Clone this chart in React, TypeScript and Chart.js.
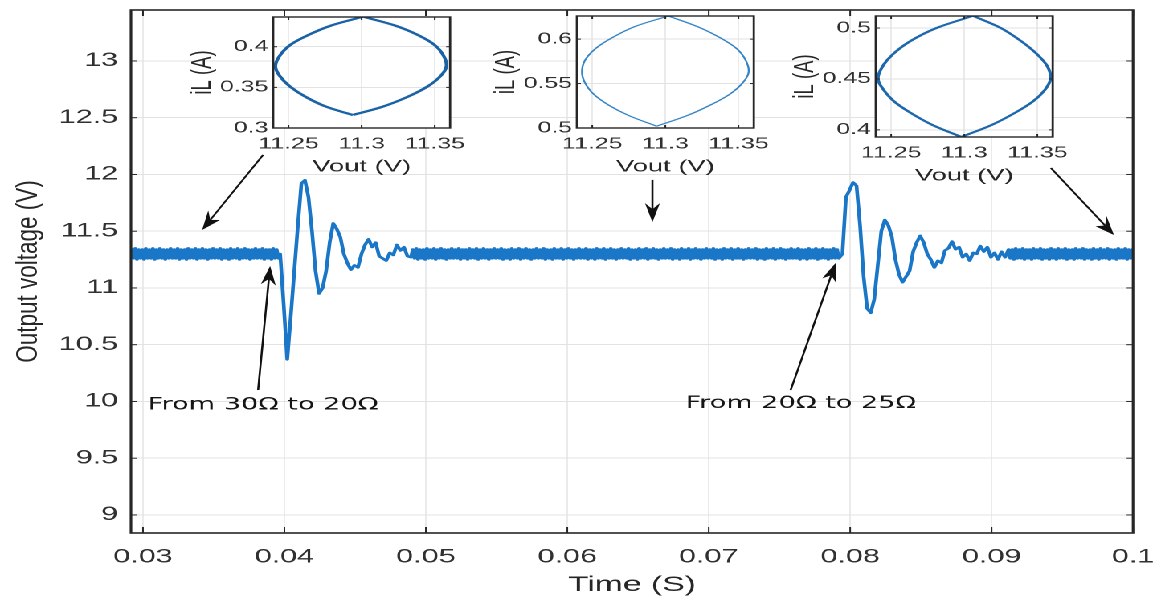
import React, { useEffect, useRef } from "react";
import { Chart, registerables } from "chart.js";

Chart.register(...registerables);

// The reference picture is horizontally stretched; the chart is laid out in a
// narrower base space and stretched with a CSS transform.
const FINAL_W = 1157;
const BASE_W = 720;
const BASE_H = 600;
const STRETCH = FINAL_W / BASE_W;
const SANS = '"Liberation Sans", Arial, Helvetica, sans-serif';

// ---------------- main waveform data ----------------
const STEADY_DT = 0.000125; // s
const TRANSIENT_DT = 0.00025; // s
const steadyA_T0 = 0.0292;
const transient1_T0 = 0.0397;
const steadyB_T0 = 0.049075;
const transient2_T0 = 0.07945;
const steadyC_T0 = 0.091325;

const vSteadyA = [
  11.34, 11.26, 11.35, 11.25, 11.34, 11.26, 11.34, 11.25, 11.35, 11.26, 11.34, 11.26,
  11.35, 11.25, 11.34, 11.26, 11.35, 11.26, 11.34, 11.25, 11.34, 11.26, 11.35, 11.26,
  11.34, 11.26, 11.35, 11.25, 11.34, 11.26, 11.34, 11.25, 11.35, 11.26, 11.34, 11.26,
  11.35, 11.25, 11.34, 11.26, 11.35, 11.26, 11.34, 11.25, 11.34, 11.26, 11.35, 11.26,
  11.34, 11.26, 11.35, 11.25, 11.34, 11.26, 11.34, 11.25, 11.35, 11.26, 11.34, 11.26,
  11.35, 11.25, 11.34, 11.26, 11.35, 11.26, 11.34, 11.25, 11.34, 11.26, 11.35, 11.26,
  11.34, 11.26, 11.35, 11.25, 11.34, 11.26, 11.34, 11.25, 11.35, 11.26, 11.34, 11.26,
];

const vTransient1 = [
  11.30, 10.85, 10.37, 10.75, 11.15, 11.55, 11.92, 11.95, 11.80, 11.50,
  11.15, 10.95, 11.00, 11.15, 11.40, 11.57, 11.52, 11.45, 11.30, 11.22,
  11.16, 11.20, 11.18, 11.30, 11.38, 11.43, 11.36, 11.40, 11.28, 11.26,
  11.24, 11.31, 11.29, 11.38, 11.33, 11.36, 11.28, 11.27,
];

const vSteadyB = [
  11.34, 11.26, 11.35, 11.25, 11.34, 11.26, 11.34, 11.25, 11.35, 11.26, 11.34, 11.26,
  11.35, 11.25, 11.34, 11.26, 11.35, 11.26, 11.34, 11.25, 11.34, 11.26, 11.35, 11.26,
  11.34, 11.26, 11.35, 11.25, 11.34, 11.26, 11.34, 11.25, 11.35, 11.26, 11.34, 11.26,
  11.35, 11.25, 11.34, 11.26, 11.35, 11.26, 11.34, 11.25, 11.34, 11.26, 11.35, 11.26,
  11.34, 11.26, 11.35, 11.25, 11.34, 11.26, 11.34, 11.25, 11.35, 11.26, 11.34, 11.26,
  11.35, 11.25, 11.34, 11.26, 11.35, 11.26, 11.34, 11.25, 11.34, 11.26, 11.35, 11.26,
  11.34, 11.26, 11.35, 11.25, 11.34, 11.26, 11.34, 11.25, 11.35, 11.26, 11.34, 11.26,
  11.35, 11.25, 11.34, 11.26, 11.35, 11.26, 11.34, 11.25, 11.34, 11.26, 11.35, 11.26,
  11.34, 11.26, 11.35, 11.25, 11.34, 11.26, 11.34, 11.25, 11.35, 11.26, 11.34, 11.26,
  11.35, 11.25, 11.34, 11.26, 11.35, 11.26, 11.34, 11.25, 11.34, 11.26, 11.35, 11.26,
  11.34, 11.26, 11.35, 11.25, 11.34, 11.26, 11.34, 11.25, 11.35, 11.26, 11.34, 11.26,
  11.35, 11.25, 11.34, 11.26, 11.35, 11.26, 11.34, 11.25, 11.34, 11.26, 11.35, 11.26,
  11.34, 11.26, 11.35, 11.25, 11.34, 11.26, 11.34, 11.25, 11.35, 11.26, 11.34, 11.26,
  11.35, 11.25, 11.34, 11.26, 11.35, 11.26, 11.34, 11.25, 11.34, 11.26, 11.35, 11.26,
  11.34, 11.26, 11.35, 11.25, 11.34, 11.26, 11.34, 11.25, 11.35, 11.26, 11.34, 11.26,
  11.35, 11.25, 11.34, 11.26, 11.35, 11.26, 11.34, 11.25, 11.34, 11.26, 11.35, 11.26,
  11.34, 11.26, 11.35, 11.25, 11.34, 11.26, 11.34, 11.25, 11.35, 11.26, 11.34, 11.26,
  11.35, 11.25, 11.34, 11.26, 11.35, 11.26, 11.34, 11.25, 11.34, 11.26, 11.35, 11.26,
  11.34, 11.26, 11.35, 11.25, 11.34, 11.26, 11.34, 11.25, 11.35, 11.26, 11.34, 11.26,
  11.35, 11.25, 11.34, 11.26, 11.35, 11.26, 11.34, 11.25, 11.34, 11.26, 11.35, 11.26,
  11.34, 11.26,
];

const vTransient2 = [
  11.30, 11.80, 11.86, 11.93, 11.90, 11.55, 11.10, 10.82, 10.78, 10.90,
  11.20, 11.50, 11.60, 11.55, 11.45, 11.25, 11.12, 11.05, 11.10, 11.15,
  11.32, 11.40, 11.46, 11.40, 11.30, 11.25, 11.18, 11.24, 11.22, 11.33,
  11.35, 11.41, 11.34, 11.36, 11.27, 11.30, 11.24, 11.31, 11.30, 11.37,
  11.32, 11.36, 11.27, 11.31, 11.25, 11.32, 11.27, 11.34,
];

const vSteadyC = [
  11.26, 11.34, 11.25, 11.35, 11.26, 11.34, 11.26, 11.35, 11.25, 11.34, 11.26, 11.34,
  11.25, 11.35, 11.26, 11.34, 11.26, 11.35, 11.25, 11.34, 11.26, 11.34, 11.25, 11.35,
  11.26, 11.34, 11.25, 11.35, 11.26, 11.34, 11.26, 11.35, 11.25, 11.34, 11.26, 11.34,
  11.25, 11.35, 11.26, 11.34, 11.26, 11.35, 11.25, 11.34, 11.26, 11.34, 11.25, 11.35,
  11.26, 11.34, 11.25, 11.35, 11.26, 11.34, 11.26, 11.35, 11.25, 11.34, 11.26, 11.34,
  11.25, 11.35, 11.26, 11.34, 11.26, 11.35, 11.25, 11.34, 11.26, 11.34, 11.25, 11.35,
];

const xTickValues = [0.03, 0.04, 0.05, 0.06, 0.07, 0.08, 0.09, 0.1];
const xTickLabels = ["0.03", "0.04", "0.05", "0.06", "0.07", "0.08", "0.09", "0.1"];
const yTickValues = [9, 9.5, 10, 10.5, 11, 11.5, 12, 12.5, 13];
const yTickLabels = ["9", "9.5", "10", "10.5", "11", "11.5", "12", "12.5", "13"];
const X_RANGE = [0.02915, 0.1];
const Y_RANGE = [8.841, 13.449];
const X_TITLE = "Time (S)";
const Y_TITLE = "Output voltage (V)";

// annotations (data coordinates: [time, voltage])
const arrowTails = [
  [0.03849, 12.172],
  [0.03814, 10.101],
  [0.06602, 11.952],
  [0.07579, 10.1],
  [0.09419, 12.057],
];
const arrowTips = [
  [0.03418, 11.511],
  [0.03899, 11.194],
  [0.06602, 11.58],
  [0.07897, 11.22],
  [0.09865, 11.467],
];
const noteTexts = ["From 30Ω to 20Ω", "From 20Ω to 25Ω"];
const noteAnchors = [
  [0.03035, 9.97],
  [0.06836, 9.98],
];

// ---------------- inset data (Vout vs iL loops) ----------------
const insetVoutTicks = [11.25, 11.3, 11.35];
const insetVoutTickLabels = ["11.25", "11.3", "11.35"];
const INSET_VOUT_RANGE = [11.2395, 11.3605];
const INSET_X_TITLE = "Vout (V)";
const INSET_Y_TITLE = "iL (A)";

const inset1IL = [0.316, 0.326, 0.338, 0.351, 0.364, 0.376, 0.389, 0.402, 0.414, 0.426, 0.437];
const inset1VLeft = [11.294, 11.276, 11.262, 11.251, 11.244, 11.241, 11.244, 11.251, 11.263, 11.279, 11.301];
const inset1VRight = [11.294, 11.314, 11.331, 11.345, 11.354, 11.358, 11.356, 11.35, 11.339, 11.323, 11.301];
const inset1ILTicks = [0.3, 0.35, 0.4];
const inset1ILTickLabels = ["0.3", "0.35", "0.4"];
const INSET1_IL_RANGE = [0.3, 0.4366];

const inset2IL = [0.502, 0.514, 0.526, 0.538, 0.551, 0.563, 0.576, 0.589, 0.601, 0.614, 0.626];
const inset2VLeft = [11.294, 11.275, 11.261, 11.251, 11.245, 11.243, 11.245, 11.252, 11.263, 11.279, 11.302];
const inset2VRight = [11.294, 11.315, 11.331, 11.344, 11.353, 11.357, 11.355, 11.349, 11.338, 11.322, 11.302];
const inset2ILTicks = [0.5, 0.55, 0.6];
const inset2ILTickLabels = ["0.5", "0.55", "0.6"];
const INSET2_IL_RANGE = [0.5, 0.626];

const inset3IL = [0.393, 0.405, 0.417, 0.428, 0.439, 0.45, 0.462, 0.474, 0.487, 0.5, 0.512];
const inset3VLeft = [11.298, 11.278, 11.263, 11.252, 11.245, 11.241, 11.244, 11.251, 11.263, 11.281, 11.306];
const inset3VRight = [11.298, 11.319, 11.335, 11.347, 11.355, 11.359, 11.357, 11.35, 11.339, 11.325, 11.306];
const inset3ILTicks = [0.4, 0.45, 0.5];
const inset3ILTickLabels = ["0.4", "0.45", "0.5"];
const INSET3_IL_RANGE = [0.393, 0.5118];

// ---------------- layout / style ----------------
const MAIN_LINE_COLOR = "#1a76c6";
const FRAME_COLOR = "#262626";
const GRID_COLOR = "#e2e2e2";
const TEXT_COLOR = "#303030";

const INSET_BOX_W = 110.1;
const INSET_AXIS_W = 55;
const INSET_CANVAS_W = 175;
const INSET_CANVAS_H = 190;
const insetLayouts = [
  { left: 169.9, top: 17, bottom: 128, color: "#1a62a6", lineWidth: 2.2 },
  { left: 359.1, top: 16, bottom: 128, color: "#3584c6", lineWidth: 1.2 },
  { left: 544.5, top: 16, bottom: 137, color: "#1d68ad", lineWidth: 2.0 },
];

const insetData = [
  { il: inset1IL, vl: inset1VLeft, vr: inset1VRight, ticks: inset1ILTicks, labels: inset1ILTickLabels, range: INSET1_IL_RANGE },
  { il: inset2IL, vl: inset2VLeft, vr: inset2VRight, ticks: inset2ILTicks, labels: inset2ILTickLabels, range: INSET2_IL_RANGE },
  { il: inset3IL, vl: inset3VLeft, vr: inset3VRight, ticks: inset3ILTicks, labels: inset3ILTickLabels, range: INSET3_IL_RANGE },
];

// ---------------- helpers ----------------
function seg(ctx: any, x1: number, y1: number, x2: number, y2: number) {
  ctx.beginPath();
  ctx.moveTo(x1, y1);
  ctx.lineTo(x2, y2);
  ctx.stroke();
}

function zeroPadding(s: any) {
  s.paddingTop = 0;
  s.paddingBottom = 0;
  s.paddingLeft = 0;
  s.paddingRight = 0;
}

// arrow whose head is shaped in final (stretched) space
function drawArrow(ctx: any, x1: number, y1: number, x2: number, y2: number) {
  const S = STRETCH;
  const fx1 = x1 * S;
  const fx2 = x2 * S;
  const dx = fx2 - fx1;
  const dy = y2 - y1;
  const len = Math.hypot(dx, dy);
  const ux = dx / len;
  const uy = dy / len;
  const L = 19;
  const W = 7.5;
  const N = 13;
  const bx = fx2 - ux * L;
  const by = y2 - uy * L;
  const nx = fx2 - ux * N;
  const ny = y2 - uy * N;
  const lx = bx - uy * W;
  const ly = by + ux * W;
  const rx = bx + uy * W;
  const ry = by - ux * W;
  seg(ctx, x1, y1, nx / S, ny);
  ctx.beginPath();
  ctx.moveTo(x2, y2);
  ctx.lineTo(lx / S, ly);
  ctx.lineTo(nx / S, ny);
  ctx.lineTo(rx / S, ry);
  ctx.closePath();
  ctx.fill();
}

function drawRotatedTitle(ctx: any, text: string, cx: number, cy: number, size: number, squeeze: number) {
  ctx.save();
  ctx.translate(cx, cy);
  ctx.rotate(-Math.PI / 2);
  ctx.scale(1, squeeze);
  ctx.font = `${size}px ${SANS}`;
  ctx.fillStyle = FRAME_COLOR;
  ctx.textAlign = "center";
  ctx.textBaseline = "middle";
  ctx.fillText(text, 0, 0);
  ctx.restore();
}

function drawNote(ctx: any, text: string, x: number, y: number, targetW: number) {
  ctx.save();
  ctx.font = `17px "DejaVu Sans", "Open Sans", sans-serif`;
  const w = ctx.measureText(text).width;
  ctx.translate(x, y);
  ctx.scale(targetW / w, 1);
  ctx.fillStyle = "#151515";
  ctx.textAlign = "left";
  ctx.textBaseline = "middle";
  ctx.fillText(text, 0, 0);
  ctx.restore();
}

function toPoints(t0: number, dt: number, values: number[]) {
  return values.map((v, i) => ({ x: t0 + i * dt, y: v }));
}

// ---------------- main chart ----------------
function buildMainConfig(): any {
  const points = [
    ...toPoints(steadyA_T0, STEADY_DT, vSteadyA),
    ...toPoints(transient1_T0, TRANSIENT_DT, vTransient1),
    ...toPoints(steadyB_T0, STEADY_DT, vSteadyB),
    ...toPoints(transient2_T0, TRANSIENT_DT, vTransient2),
    ...toPoints(steadyC_T0, STEADY_DT, vSteadyC),
  ];

  const framePlugin = {
    id: "mainFrame",
    afterDraw(chart: any) {
      const { ctx, chartArea: a, scales } = chart;
      const xs = scales.x;
      const ys = scales.y;
      ctx.save();
      ctx.strokeStyle = FRAME_COLOR;
      ctx.lineWidth = 1;
      xTickValues.forEach((v) => {
        const px = xs.getPixelForValue(v);
        seg(ctx, px, a.bottom, px, a.bottom - 6);
        seg(ctx, px, a.top, px, a.top + 6);
      });
      yTickValues.forEach((v) => {
        const py = ys.getPixelForValue(v);
        seg(ctx, a.left, py, a.left + 4, py);
        seg(ctx, a.right, py, a.right - 4, py);
      });
      ctx.lineWidth = 1.6;
      ctx.strokeRect(a.left, a.top, a.right - a.left, a.bottom - a.top);

      // arrows
      ctx.strokeStyle = "#111";
      ctx.fillStyle = "#111";
      ctx.lineWidth = 1.3;
      arrowTails.forEach((tail, i) => {
        const tip = arrowTips[i];
        drawArrow(
          ctx,
          xs.getPixelForValue(tail[0]),
          ys.getPixelForValue(tail[1]),
          xs.getPixelForValue(tip[0]),
          ys.getPixelForValue(tip[1])
        );
      });

      // notes
      noteTexts.forEach((t, i) => {
        drawNote(ctx, t, xs.getPixelForValue(noteAnchors[i][0]), ys.getPixelForValue(noteAnchors[i][1]), 143.5);
      });

      // axis titles
      ctx.font = `21px ${SANS}`;
      ctx.fillStyle = FRAME_COLOR;
      ctx.textAlign = "center";
      ctx.textBaseline = "middle";
      ctx.fillText(X_TITLE, (a.left + a.right) / 2, 585);
      drawRotatedTitle(ctx, Y_TITLE, 18, (a.top + a.bottom) / 2, 22.5, 0.82);
      ctx.restore();
    },
  };

  return {
    type: "line",
    data: {
      datasets: [
        {
          data: points,
          borderColor: MAIN_LINE_COLOR,
          borderWidth: 2.3,
          borderJoinStyle: "round",
          borderCapStyle: "round",
          pointRadius: 0,
          tension: 0,
          fill: false,
        },
      ],
    },
    options: {
      animation: false,
      responsive: false,
      devicePixelRatio: 2,
      events: [],
      layout: { padding: { top: 10, right: 14.9, left: 0, bottom: 0 } },
      plugins: { legend: { display: false }, tooltip: { enabled: false } },
      scales: {
        x: {
          type: "linear",
          min: X_RANGE[0],
          max: X_RANGE[1],
          afterBuildTicks: (s: any) => {
            s.ticks = xTickValues.map((v) => ({ value: v }));
          },
          afterFit: (s: any) => {
            s.height = 67;
            zeroPadding(s);
          },
          grid: { color: GRID_COLOR, lineWidth: 0.7, drawTicks: false },
          border: { display: false },
          ticks: {
            autoSkip: false,
            maxRotation: 0,
            padding: 13,
            color: TEXT_COLOR,
            font: { family: SANS, size: 19 },
            callback: (_v: any, i: number) => xTickLabels[i],
          },
        },
        y: {
          type: "linear",
          min: Y_RANGE[0],
          max: Y_RANGE[1],
          afterBuildTicks: (s: any) => {
            s.ticks = yTickValues.map((v) => ({ value: v }));
          },
          afterFit: (s: any) => {
            s.width = 81.5;
            zeroPadding(s);
          },
          grid: { color: GRID_COLOR, lineWidth: 1, drawTicks: false },
          border: { display: false },
          ticks: {
            autoSkip: false,
            padding: 8,
            color: TEXT_COLOR,
            font: { family: SANS, size: 19 },
            callback: (_v: any, i: number) => yTickLabels[i],
          },
        },
      },
    },
    plugins: [framePlugin],
  };
}

// ---------------- inset chart ----------------
function buildInsetConfig(k: number): any {
  const d = insetData[k];
  const L = insetLayouts[k];
  const rightPad = INSET_CANVAS_W - INSET_AXIS_W - INSET_BOX_W;
  const leftArc = d.il.map((il, i) => ({ x: d.vl[i], y: il }));
  const rightArc = d.il.map((il, i) => ({ x: d.vr[i], y: il }));

  const plugin = {
    id: "insetFrame" + k,
    beforeDraw(chart: any) {
      const { ctx, chartArea: a } = chart;
      ctx.save();
      ctx.fillStyle = "#ffffff";
      ctx.fillRect(a.left, a.top, a.right - a.left, a.bottom - a.top);
      ctx.restore();
    },
    afterDraw(chart: any) {
      const { ctx, chartArea: a, scales } = chart;
      ctx.save();
      ctx.strokeStyle = FRAME_COLOR;
      ctx.lineWidth = 1;
      insetVoutTicks.forEach((v) => {
        const px = scales.x.getPixelForValue(v);
        seg(ctx, px, a.bottom, px, a.bottom - 3);
        seg(ctx, px, a.top, px, a.top + 3);
      });
      d.ticks.forEach((v) => {
        const py = scales.y.getPixelForValue(v);
        seg(ctx, a.left, py, a.left + 2.5, py);
        seg(ctx, a.right, py, a.right - 2.5, py);
      });
      ctx.lineWidth = 1.4;
      ctx.strokeRect(a.left, a.top, a.right - a.left, a.bottom - a.top);
      ctx.font = `17px ${SANS}`;
      ctx.fillStyle = FRAME_COLOR;
      ctx.textAlign = "center";
      ctx.textBaseline = "middle";
      ctx.fillText(INSET_X_TITLE, (a.left + a.right) / 2, a.bottom + 39);
      drawRotatedTitle(ctx, INSET_Y_TITLE, a.left - 43.6, (a.top + a.bottom) / 2, 18.5, 0.95);
      ctx.restore();
    },
  };

  const ds = (data: any) => ({
    data,
    borderColor: L.color,
    borderWidth: L.lineWidth,
    pointRadius: 0,
    showLine: true,
    tension: 0.35,
    fill: false,
  });

  return {
    type: "scatter",
    data: { datasets: [ds(leftArc), ds(rightArc)] },
    options: {
      animation: false,
      responsive: false,
      devicePixelRatio: 2,
      events: [],
      layout: { padding: { top: L.top, right: rightPad, left: 0, bottom: 0 } },
      plugins: { legend: { display: false }, tooltip: { enabled: false } },
      scales: {
        x: {
          type: "linear",
          min: INSET_VOUT_RANGE[0],
          max: INSET_VOUT_RANGE[1],
          afterBuildTicks: (s: any) => {
            s.ticks = insetVoutTicks.map((v) => ({ value: v }));
          },
          afterFit: (s: any) => {
            s.height = INSET_CANVAS_H - L.bottom;
            zeroPadding(s);
          },
          grid: { color: GRID_COLOR, lineWidth: 0.7, drawTicks: false },
          border: { display: false },
          ticks: {
            autoSkip: false,
            maxRotation: 0,
            padding: 7,
            color: TEXT_COLOR,
            font: { family: SANS, size: 15.5 },
            callback: (_v: any, i: number) => insetVoutTickLabels[i],
          },
        },
        y: {
          type: "linear",
          min: d.range[0],
          max: d.range[1],
          afterBuildTicks: (s: any) => {
            s.ticks = d.ticks.map((v) => ({ value: v }));
          },
          afterFit: (s: any) => {
            s.width = INSET_AXIS_W;
            zeroPadding(s);
          },
          grid: { color: GRID_COLOR, lineWidth: 1, drawTicks: false },
          border: { display: false },
          ticks: {
            autoSkip: false,
            padding: 3,
            color: TEXT_COLOR,
            font: { family: SANS, size: 15.5 },
            callback: (_v: any, i: number) => d.labels[i],
          },
        },
      },
    },
    plugins: [plugin],
  };
}

function ChartCanvas(props: { build: () => any; width: number; height: number; left: number; top: number }) {
  const ref = useRef<HTMLCanvasElement | null>(null);
  useEffect(() => {
    if (!ref.current) return;
    const chart = new Chart(ref.current, props.build());
    return () => chart.destroy();
  }, []);
  return (
    <canvas
      ref={ref}
      width={props.width}
      height={props.height}
      style={{ position: "absolute", left: props.left, top: props.top, width: props.width, height: props.height }}
    />
  );
}

export default function App() {
  return (
    <div
      style={{
        position: "fixed",
        left: 0,
        top: 0,
        width: FINAL_W,
        height: BASE_H,
        overflow: "hidden",
        background: "#ffffff",
      }}
    >
      <div
        style={{
          position: "absolute",
          left: 0,
          top: 0,
          width: BASE_W,
          height: BASE_H,
          transform: `scaleX(${STRETCH})`,
          transformOrigin: "0 0",
        }}
      >
        <ChartCanvas build={buildMainConfig} width={BASE_W} height={BASE_H} left={0} top={0} />
        {insetLayouts.map((L, k) => (
          <ChartCanvas
            key={k}
            build={() => buildInsetConfig(k)}
            width={INSET_CANVAS_W}
            height={INSET_CANVAS_H}
            left={L.left - INSET_AXIS_W}
            top={0}
          />
        ))}
      </div>
    </div>
  );
}
